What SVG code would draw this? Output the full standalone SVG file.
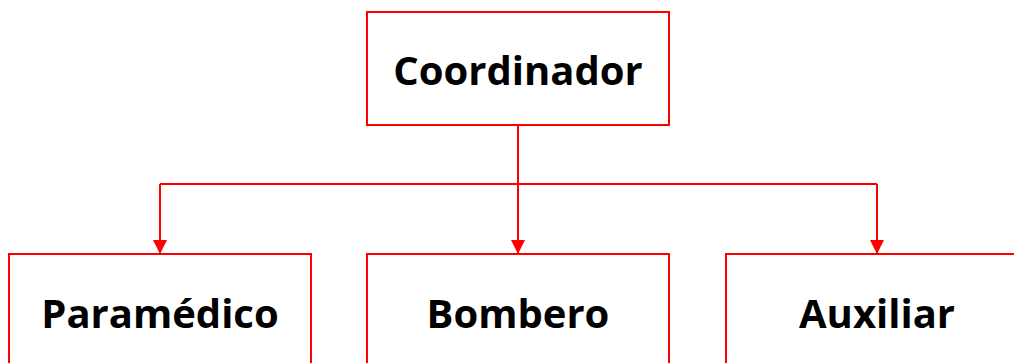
<svg xmlns="http://www.w3.org/2000/svg" width="1014" height="363" viewBox="0 0 1014 363">
<style>
.box{fill:#fff;stroke:#ff0000;stroke-width:2}
.lbl{font-family:"Open Sans","Liberation Sans",sans-serif;font-weight:bold;font-size:40px;fill:#000;text-anchor:middle}
.con{fill:none;stroke:#ff0000;stroke-width:2}
</style>
<defs>
<marker id="arr" markerWidth="14" markerHeight="14" refX="14" refY="7" orient="auto" markerUnits="userSpaceOnUse">
<path d="M0,0 L14,7 L0,14 Z" fill="#ff0000"/>
</marker>
</defs>
<rect width="1014" height="363" fill="#fff"/>
<g id="connectors">
<path class="con" d="M518,125 V184"/>
<path class="con" d="M160,184 H877"/>
<path class="con" d="M160,184 V254" marker-end="url(#arr)"/>
<path class="con" d="M518,184 V254" marker-end="url(#arr)"/>
<path class="con" d="M877,184 V254" marker-end="url(#arr)"/>
</g>
<g id="coordinador">
<rect class="box" x="367" y="12" width="302" height="113"/>
<text class="lbl" x="518" y="85">Coordinador</text>
</g>
<g id="paramedico">
<rect class="box" x="9" y="254" width="302" height="130"/>
<text class="lbl" x="160" y="328">Paramédico</text>
</g>
<g id="bombero">
<rect class="box" x="367" y="254" width="302" height="130"/>
<text class="lbl" x="518" y="328">Bombero</text>
</g>
<g id="auxiliar">
<rect class="box" x="726" y="254" width="302" height="130"/>
<text class="lbl" x="877" y="328">Auxiliar</text>
</g>
</svg>
